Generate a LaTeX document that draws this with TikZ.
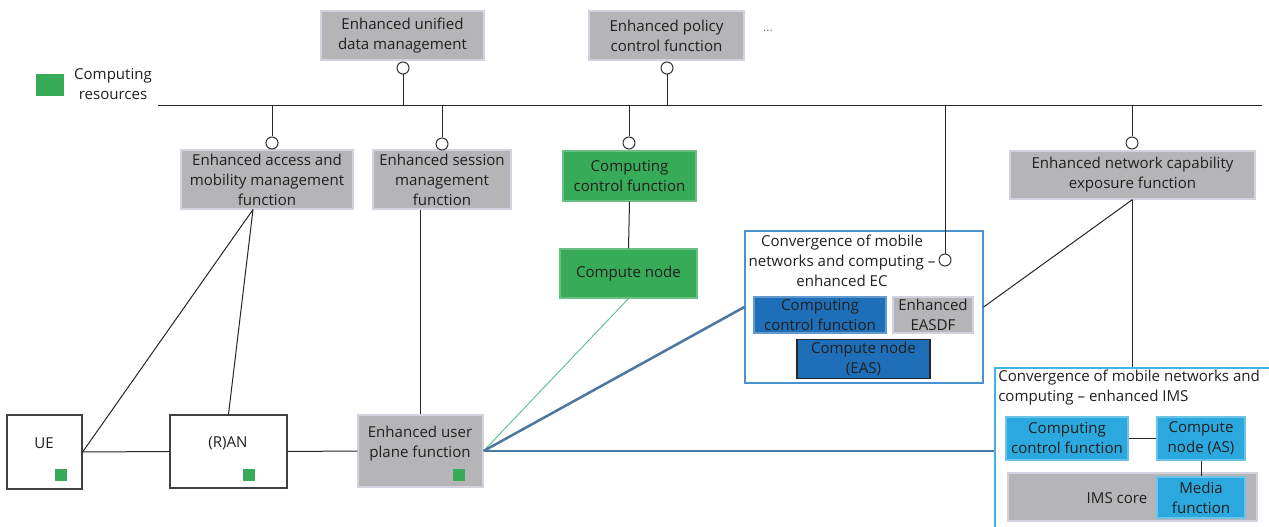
\documentclass[tikz,border=0pt]{standalone}
\usepackage{fontspec}
\setmainfont{Open Sans}

\definecolor{boxgray}{HTML}{B5B5B7}
\definecolor{boxedge}{HTML}{D2D3DE}
\definecolor{cgreen}{HTML}{37AB58}
\definecolor{ecblue}{HTML}{1F6FB8}
\definecolor{imsblue}{HTML}{2BA9DF}
\definecolor{ecedge}{HTML}{4A93D2}
\definecolor{imsedge}{HTML}{3FB5E6}
\definecolor{linkblue}{HTML}{4D76A0}
\definecolor{linkgreen}{HTML}{5CC08E}
\definecolor{txt}{HTML}{202020}

\newcommand\boxfont{\fontsize{11.3}{15}\selectfont}

\tikzset{
  sz/.style 2 args={minimum width=#1*0.75pt, minimum height=#2*0.75pt},
  base/.style={inner sep=0pt, align=center, font=\boxfont, text=txt},
  graybox/.style={base, fill=boxgray, draw=boxedge, line width=0.8pt},
  greenbox/.style={base, fill=cgreen, draw=cgreen!75!white, line width=0.8pt},
  darkbluebox/.style={base, fill=ecblue, draw=ecblue!70!white, line width=0.8pt},
  lightbluebox/.style={base, fill=imsblue, draw=imsblue!70!white, line width=0.8pt},
  whitebox/.style={base, fill=white, draw=black!75, line width=0.9pt},
  frame/.style={inner sep=0pt, draw, line width=0.9pt},
  port/.style={circle, draw=black!80, fill=white, line width=0.75pt, minimum size=9pt, inner sep=0pt},
  res/.style={fill=cgreen, inner sep=0pt, minimum size=9pt},
  label/.style={inner sep=0pt, align=center, font=\boxfont, text=txt},
  wire/.style={draw=black!85, line width=0.75pt},
}

\begin{document}
\begin{tikzpicture}[x=0.75pt, y=-0.75pt]
\clip (0,0) rectangle (1269,527);
\useasboundingbox (0,0) rectangle (1269,527);

% legend
\node[res, sz={28}{22}] (legsq) at (50,85) {};
\node[label] (legtxt) at (113,84) {Computing\\resources};

% service bus
\coordinate (busL) at (158,106);
\coordinate (busR) at (1262,106);
\draw[wire] (busL) -- (busR);

% functions above the bus
\node[graybox, sz={163}{49}] (udm) at (402.5,35.5) {Enhanced unified\\data management};
\node[graybox, sz={155}{49}] (pcf) at (666.5,35.5) {Enhanced policy\\control function};
\node[label, text=black!55, font=\fontsize{9}{10}\selectfont] (more) at (768,31) {...};
\node[port] (pudm) at (403,68) {};
\node[port] (ppcf) at (667,68) {};
\draw[wire] (pudm.south) -- (pudm.south |- busL);
\draw[wire] (ppcf.south) -- (ppcf.south |- busL);

% functions below the bus
\node[graybox, sz={172}{59}] (amf) at (267,179.5) {Enhanced access and\\mobility management\\function};
\node[graybox, sz={138}{59}] (smf) at (442,179.5) {Enhanced session\\management\\function};
\node[greenbox, sz={133}{50}] (ccf) at (629.5,176) {Computing\\control function};
\node[graybox, sz={245}{48}] (nef) at (1132.5,175) {Enhanced network capability\\exposure function};
\node[port] (pamf) at (272,143) {};
\node[port] (psmf) at (442,144) {};
\node[port] (pccf) at (629,143) {};
\node[port] (pnef) at (1132,143) {};
\draw[wire] (pamf.north) -- (pamf.north |- busL);
\draw[wire] (psmf.north) -- (psmf.north |- busL);
\draw[wire] (pccf.north) -- (pccf.north |- busL);
\draw[wire] (pnef.north) -- (pnef.north |- busL);

\node[greenbox, sz={137}{49}] (cnode) at (628.5,273.5) {Compute node};
\draw[wire] (ccf.south) -- (cnode.north);

% enhanced EC
\node[frame, draw=ecedge, sz={238}{152}] (ec) at (864,307) {};
\node[label] (ectitle) at (842,261) {Convergence of mobile\\networks and computing --\\enhanced EC};
\node[port] (pec) at (945,260) {};
\draw[wire] (pec.north) -- (pec.north |- busL);
\node[darkbluebox, sz={132}{36}] (ecccf) at (820,315) {Computing\\control function};
\node[graybox, sz={80}{36}] (easdf) at (933,315) {Enhanced\\EASDF};
\node[base, fill=ecblue, draw=black!85, line width=0.9pt, sz={133}{39}] (eas) at (863.5,359) {Compute node\\(EAS)};

% enhanced IMS
\node[frame, draw=imsedge, sz={295}{172}] (ims) at (1142.5,454) {};
\node[label, align=left, anchor=north west] (imstitle) at (998,370) {Convergence of mobile networks and\\computing -- enhanced IMS};
\node[lightbluebox, sz={122}{43}] (imsccf) at (1067,438.5) {Computing\\control function};
\node[lightbluebox, sz={88}{43}] (as) at (1201,438.5) {Compute\\node (AS)};
\node[graybox, sz={249}{48}] (core) at (1132.5,497) {};
\node[label] (coretxt) at (1117,498) {IMS core};
\node[lightbluebox, sz={88}{41}] (media) at (1201,497.5) {Media\\function};
\draw[wire] (imsccf.east) -- (as.west);
\draw[wire] (as.south) -- (media.north);

% access side
\node[whitebox, sz={75}{74}] (ue) at (44.5,452) {};
\node[label] (uetxt) at (44,443) {UE};
\node[res] (uer) at (61,474.5) {};
\node[whitebox, sz={117}{73}] (ran) at (228.5,451.5) {};
\node[label] (rantxt) at (228,443) {(R)AN};
\node[res] (ranr) at (249,474.5) {};
\node[graybox, sz={125}{72}] (upf) at (420.5,451) {};
\node[label] (upftxt) at (420,444) {Enhanced user\\plane function};
\node[res] (upfr) at (459,474.5) {};

\draw[wire] (ue.east) -- (ran.west);
\draw[wire] (ran.east) -- (upf.west);
\draw[wire] ([xshift=-10.5pt]amf.south) -- (ue.east);
\draw[wire] ([xshift=-10.5pt]amf.south) -- (ran.north);
\draw[wire] (upf.north) -- (upf.north |- smf.south);

% user plane links
\draw[draw=linkgreen, line width=0.7pt] (upf.east) -- (cnode.south);
\draw[draw=linkblue, line width=1.9pt] (upf.east) -- (ec.west);
\draw[draw=linkblue, line width=1.9pt] (upf.east) -- (upf.east -| ims.west);

% exposure links
\draw[wire] (nef.south) -- (ec.east);
\draw[wire] (nef.south) -- (nef.south |- ims.north);
\end{tikzpicture}
\end{document}
